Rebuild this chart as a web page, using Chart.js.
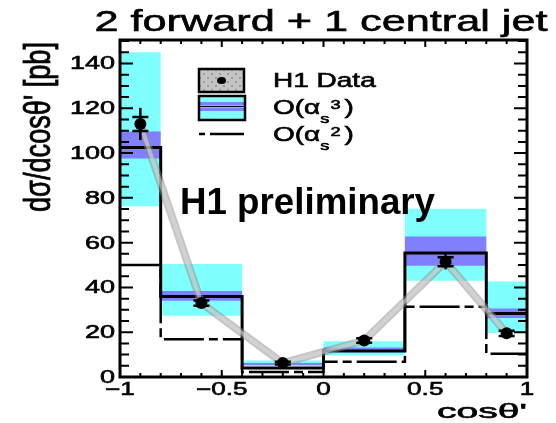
<!DOCTYPE html>
<html>
<head>
<meta charset="utf-8">
<script src="https://cdn.jsdelivr.net/npm/chart.js@4.4.0/dist/chart.umd.min.js"></script>
<style>
  body { margin: 0; background: #fff; }
  canvas { display: block; }
</style>
</head>
<body>
<canvas id="jetChart" width="556" height="423"></canvas>
<script>
// bins in cos theta'
const binEdges = [-1, -0.8, -0.4, 0, 0.4, 0.8, 1];
// O(as^3) prediction, its scale band and total band
const nlo3 = [102.5, 35.9, 4, 11.6, 55.4, 28.4];
const nlo3ScaleLow = [97.6, 34, 5.2, 12.1, 49.7, 26.4];
const nlo3ScaleHigh = [109.6, 38.4, 6.2, 13.2, 62.8, 30.6];
const nlo3TotLow = [76.3, 27.3, 5, 9.6, 43, 19.7];
const nlo3TotHigh = [145, 50.5, 7.4, 16, 75.1, 42.6];
// O(as^2) prediction
const lo2 = [50, 16.9, 2.2, 6.8, 31.4, 10.4];
// H1 data
const dataX = [-0.9, -0.6, -0.2, 0.2, 0.6, 0.9];
const dataY = [113, 33, 6.2, 16.3, 51.5, 19.5];
const dataStat = [3.1, 1.2, 0.6, 1, 2, 1.2];
const dataTot = [7.2, 2, 1, 1.5, 3.4, 2];
// ticks
const xTickLabels = ["\u22121", "\u22120.5", "0", "0.5", "1"];
const xTickValues = [-1, -0.5, 0, 0.5, 1];
const yTickValues = [0, 20, 40, 60, 80, 100, 120, 140];

const CYAN = "#80ffff";
const BLUE = "#8080ff";
const FONT = "'Liberation Sans', Arial, sans-serif";

function stepPoints(vals) {
  return binEdges.map((x, i) => ({ x: x, y: vals[Math.min(i, vals.length - 1)] }));
}

function dataPoints() {
  return dataX.map((x, i) => ({ x: x, y: dataY[i] }));
}

// text stretched horizontally, like the original plot (a thin stroke makes it heavier)
function wideText(ctx, text, x, y, font, sx, align, heavy) {
  ctx.save();
  ctx.font = font;
  ctx.translate(x, y);
  ctx.scale(sx, 1);
  ctx.textAlign = align || "left";
  ctx.fillText(text, 0, 0);
  if (heavy !== false) {
    ctx.strokeStyle = ctx.fillStyle;
    ctx.lineWidth = 0.6;
    ctx.strokeText(text, 0, 0);
  }
  ctx.restore();
}

function fitText(ctx, text, x, y, font, width, align, heavy) {
  ctx.save();
  ctx.font = font;
  const w = ctx.measureText(text).width;
  ctx.restore();
  wideText(ctx, text, x, y, font, width / w, align, heavy);
}

// O(a_s^n) with sub and superscript
function orderLabel(ctx, x, y, power, sx) {
  const big = "20px " + FONT;
  const small = "13px " + FONT;
  let cx = x;
  const part = (t, f, dy) => {
    ctx.font = f;
    wideText(ctx, t, cx, y + dy, f, sx, "left");
    ctx.font = f;
    cx += ctx.measureText(t).width * sx;
  };
  part("O(\u03b1", big, 0);
  part("s", small, 9);
  cx += 1;
  part(power, small, -5);
  cx += 4;
  part(")", big, 0);
}

const framePlugin = {
  id: "h1Frame",
  afterDatasetsDraw(chart) {
    const ctx = chart.ctx;
    const a = chart.chartArea;
    const xs = chart.scales.x;
    const ys = chart.scales.y;

    // error bars of the data
    ctx.save();
    ctx.strokeStyle = "#000";
    ctx.lineWidth = 2.5;
    dataX.forEach((x, i) => {
      const px = xs.getPixelForValue(x);
      const top = ys.getPixelForValue(dataY[i] + dataTot[i]);
      const bot = ys.getPixelForValue(dataY[i] - dataTot[i]);
      ctx.beginPath();
      ctx.moveTo(px, top);
      ctx.lineTo(px, bot);
      ctx.stroke();
      const sTop = ys.getPixelForValue(dataY[i] + dataStat[i]);
      const sBot = ys.getPixelForValue(dataY[i] - dataStat[i]);
      ctx.beginPath();
      ctx.moveTo(px - 8, sTop);
      ctx.lineTo(px + 8, sTop);
      ctx.moveTo(px - 8, sBot);
      ctx.lineTo(px + 8, sBot);
      ctx.stroke();
    });
    ctx.restore();

    // frame
    ctx.save();
    ctx.strokeStyle = "#000";
    ctx.lineWidth = 3;
    ctx.strokeRect(a.left, a.top, a.right - a.left, a.bottom - a.top);

    // inward ticks
    ctx.lineWidth = 2;
    ctx.beginPath();
    for (let k = -10; k <= 10; k++) {
      const px = xs.getPixelForValue(k / 10);
      const len = k % 5 === 0 ? 7 : 4;
      ctx.moveTo(px, a.bottom);
      ctx.lineTo(px, a.bottom - len);
      ctx.moveTo(px, a.top);
      ctx.lineTo(px, a.top + len);
    }
    for (let v = 0; v <= 150; v += 5) {
      const py = ys.getPixelForValue(v);
      const len = v % 20 === 0 ? 13 : 9;
      ctx.moveTo(a.left, py);
      ctx.lineTo(a.left + len, py);
      ctx.moveTo(a.right, py);
      ctx.lineTo(a.right - len, py);
    }
    ctx.stroke();
    ctx.restore();

    // tick labels
    ctx.save();
    ctx.fillStyle = "#000";
    ctx.textBaseline = "middle";
    yTickValues.forEach((v) => {
      wideText(ctx, String(v), 115, ys.getPixelForValue(v) + 1, "18px " + FONT, 1.5, "right");
    });
    ctx.textBaseline = "alphabetic";
    xTickValues.forEach((v, i) => {
      wideText(ctx, xTickLabels[i], xs.getPixelForValue(v), 395, "18px " + FONT, 1.45, "center");
    });

    // axis titles
    fitText(ctx, "cos\u03b8'", 527, 418, "20px " + FONT, 90, "right");
    ctx.save();
    ctx.translate(40, 127);
    ctx.scale(1.45, 1);
    ctx.rotate(-Math.PI / 2);
    ctx.font = "26px " + FONT;
    ctx.textAlign = "center";
    ctx.textBaseline = "middle";
    const yt = "d\u03c3/dcos\u03b8' [pb]";
    const w = ctx.measureText(yt).width;
    ctx.scale(170 / w, 1);
    ctx.fillText(yt, 0, 0);
    ctx.strokeStyle = "#000";
    ctx.lineWidth = 0.6;
    ctx.strokeText(yt, 0, 0);
    ctx.restore();

    // title and label
    fitText(ctx, "2 forward + 1 central jet", 321, 31, "29px " + FONT, 453, "center");
    fitText(ctx, "H1 preliminary", 180, 214, "bold 36px " + FONT, 255, "left", false);
    ctx.restore();

    // legend
    ctx.save();
    // H1 data box
    ctx.fillStyle = "#c4c4c4";
    ctx.fillRect(199, 69, 45, 23);
    ctx.fillStyle = "#9c9c9c";
    for (let gx = 199; gx < 244; gx += 4) {
      for (let gy = 69; gy < 92; gy += 4) {
        if (((gx - 199) / 4 + (gy - 69) / 4) % 2 === 0) ctx.fillRect(gx, gy, 2, 2);
      }
    }
    ctx.fillStyle = "#000";
    ctx.beginPath();
    ctx.ellipse(221.5, 80.5, 4.5, 3.5, 0, 0, Math.PI * 2);
    ctx.fill();
    ctx.strokeStyle = "#000";
    ctx.lineWidth = 2.5;
    ctx.strokeRect(199, 69, 45, 23);
    // O(as^3) box
    ctx.fillStyle = CYAN;
    ctx.fillRect(199, 96, 46, 24);
    ctx.fillStyle = BLUE;
    ctx.fillRect(199, 102, 46, 3.5);
    ctx.fillRect(199, 107.5, 46, 3.5);
    ctx.fillStyle = "#000";
    ctx.fillRect(199, 106, 46, 1);
    ctx.strokeRect(199, 96, 46, 24);
    // O(as^2) line
    ctx.lineWidth = 2.5;
    ctx.beginPath();
    ctx.moveTo(199, 134);
    ctx.lineTo(205, 134);
    ctx.moveTo(210, 134);
    ctx.lineTo(244, 134);
    ctx.stroke();
    ctx.fillStyle = "#000";
    wideText(ctx, "H1 Data", 273, 87, "20px " + FONT, 1.4, "left");
    orderLabel(ctx, 273, 114, "3", 1.4);
    orderLabel(ctx, 273, 141, "2", 1.4);
    ctx.restore();
  }
};

const ctx = document.getElementById("jetChart").getContext("2d");

new Chart(ctx, {
  type: "line",
  data: {
    datasets: [
      {
        data: stepPoints(nlo3TotLow),
        stepped: true,
        borderWidth: 0,
        pointRadius: 0,
        fill: false,
        order: 20
      },
      {
        data: stepPoints(nlo3TotHigh),
        stepped: true,
        borderWidth: 0,
        pointRadius: 0,
        fill: "-1",
        backgroundColor: CYAN,
        order: 19
      },
      {
        data: stepPoints(nlo3ScaleLow),
        stepped: true,
        borderWidth: 0,
        pointRadius: 0,
        fill: false,
        order: 18
      },
      {
        data: stepPoints(nlo3ScaleHigh),
        stepped: true,
        borderWidth: 0,
        pointRadius: 0,
        fill: "-1",
        backgroundColor: BLUE,
        order: 17
      },
      {
        data: stepPoints(nlo3),
        stepped: true,
        borderColor: "#000",
        borderWidth: 3,
        pointRadius: 0,
        fill: false,
        order: 15
      },
      {
        data: stepPoints(lo2),
        stepped: true,
        borderColor: "#000",
        borderWidth: 2.5,
        borderDash: [40, 5, 9, 5],
        pointRadius: 0,
        fill: false,
        order: 14
      },
      {
        data: dataPoints(),
        borderColor: "rgba(140,140,140,0.5)",
        borderWidth: 8,
        tension: 0,
        pointRadius: 0,
        fill: false,
        order: 6
      },
      {
        data: dataPoints(),
        borderColor: "rgba(220,220,220,0.55)",
        borderWidth: 4,
        tension: 0,
        pointRadius: 0,
        fill: false,
        order: 5
      },
      {
        data: dataPoints(),
        showLine: false,
        pointRadius: 6,
        pointBackgroundColor: "#000",
        pointBorderWidth: 0,
        fill: false,
        order: 1
      }
    ]
  },
  options: {
    responsive: false,
    animation: false,
    layout: { padding: { left: 0, right: 29, top: 40, bottom: 0 } },
    plugins: {
      legend: { display: false },
      tooltip: { enabled: false },
      title: { display: false }
    },
    scales: {
      x: {
        type: "linear",
        min: -1,
        max: 1,
        grid: { display: false },
        border: { display: false },
        ticks: { display: false },
        afterFit: (s) => { s.height = 46; }
      },
      y: {
        type: "linear",
        min: 0,
        max: 150.5,
        grid: { display: false },
        border: { display: false },
        ticks: { display: false },
        afterFit: (s) => { s.width = 120; }
      }
    }
  },
  plugins: [framePlugin]
});
</script>
</body>
</html>
